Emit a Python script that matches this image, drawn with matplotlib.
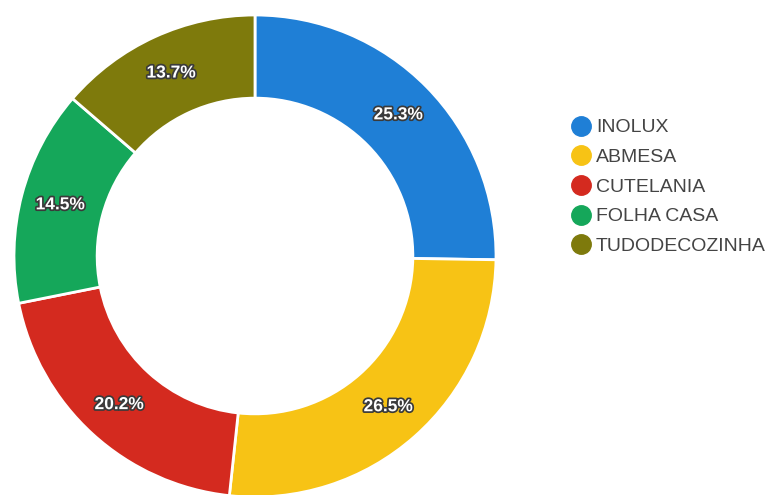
import matplotlib.pyplot as plt
import matplotlib.patheffects as pe
from matplotlib.lines import Line2D

plt.rcParams['font.family'] = ['Liberation Sans', 'DejaVu Sans']

labels = ['INOLUX', 'ABMESA', 'CUTELANIA', 'FOLHA CASA', 'TUDODECOZINHA']
shares = [25.3, 26.5, 20.2, 14.5, 13.7]
colors = ['#1f7fd6', '#f7c315', '#d42a1f', '#15a75a', '#7e7a0c']

fig = plt.figure(figsize=(7.66, 4.95), dpi=100)
ax = fig.add_axes([14 / 766, -2 / 495, 482 / 766, 482 / 495])

wedges, texts, autotexts = ax.pie(
    shares, colors=colors, startangle=90, counterclock=False,
    autopct='%1.1f%%', pctdistance=0.835,
    wedgeprops=dict(width=0.345, edgecolor='white', linewidth=2),
    textprops=dict(color='white', fontsize=12.5, fontweight='bold'))
# show the shares as given (they add up to 100.2)
for t, s in zip(autotexts, shares):
    t.set_text(f'{s}%')
    t.set_path_effects([pe.withStroke(linewidth=2.5, foreground='#3a3a3a')])
ax.set_xlim(-1, 1)
ax.set_ylim(-1, 1)
ax.set_aspect('equal')

handles = [Line2D([], [], marker='o', linestyle='', markersize=14,
                  markerfacecolor=c, markeredgecolor=c) for c in colors]
fig.legend(handles, labels, loc='upper left', bbox_to_anchor=(562 / 766, 1 - 111 / 495),
           frameon=False, fontsize=14, labelcolor='#444444',
           handletextpad=0.15, labelspacing=0.62, handlelength=1.2, borderaxespad=0)

fig.savefig('out.png', dpi=100)
